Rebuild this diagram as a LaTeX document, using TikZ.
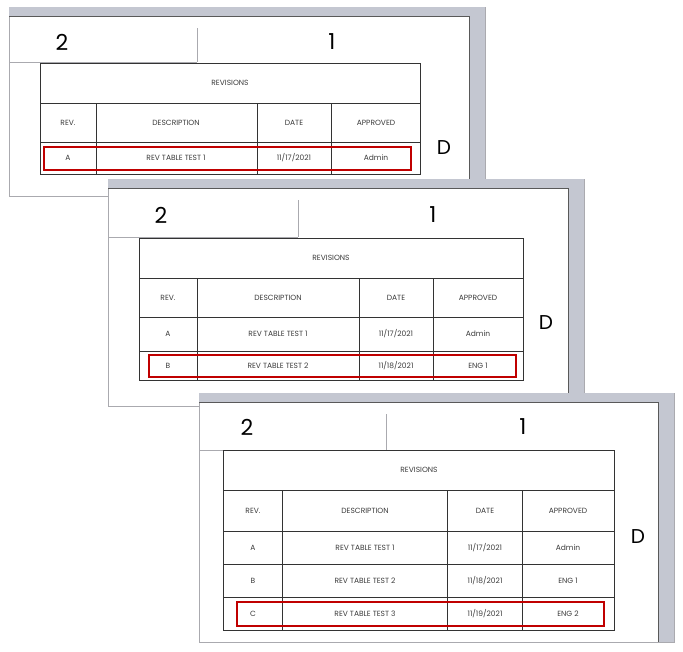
\documentclass[tikz,border=0pt]{standalone}
\usepackage{fontspec}
\setmainfont{Poppins}
\definecolor{band}{RGB}{196,199,209}
\definecolor{edge}{RGB}{170,170,175}
\definecolor{redb}{RGB}{192,0,0}
\definecolor{txt}{RGB}{60,60,60}
\newcommand{\drawpanel}[9]{%
  % L T R B divx lineY num2x num1x numy
  \fill[white,draw=edge,line width=0.8pt] (#1,#2) rectangle (#3,#4);
  \fill[band] (#1,#2) rectangle (#3,#2+9);
  \fill[band] (#3-16,#2) rectangle (#3,#4);
  \draw[gray!70!black,line width=0.6pt] (#1,#2+9) -- (#3-16,#2+9) -- (#3-16,#4);
  \draw[edge,line width=0.6pt] (#1,#6) -- (#5,#6);
  \draw[edge,line width=0.6pt] (#5,#2+21) -- (#5,#6);
  \node[font=\fontsize{22}{22}\selectfont] at (#7,#9) {2};
  \node[font=\fontsize{22}{22}\selectfont] at (#8,#9) {1};
}
\tikzset{cell/.style={font=\fontsize{7.5}{8}\selectfont,text=txt},
  grid/.style={draw=black!80,line width=0.7pt},
  redbox/.style={draw=redb,line width=2pt},
  bigD/.style={font=\fontsize{20}{20}\selectfont}}
\begin{document}
\begin{tikzpicture}[x=1pt,y=-1pt]
\useasboundingbox (0,0) rectangle (683,651);
% ---------- panel 1
\drawpanel{9}{7}{485}{196}{197}{62}{62}{332}{42}
\fill[white] (40,63) rectangle (420,174);
\draw[grid] (40,63) rectangle (420,174);
\draw[grid] (40,103) -- (420,103) (40,142) -- (420,142);
\foreach \c in {96,257,331} \draw[grid] (\c,103) -- (\c,174);
\node[cell] (t1) at (230,83) {REVISIONS};
\node[cell] (h11) at (68,123) {REV.};
\node[cell] (h12) at (176,123) {DESCRIPTION};
\node[cell] (h13) at (294,123) {DATE};
\node[cell] (h14) at (376,123) {APPROVED};
\node[cell] (a11) at (68,158) {A};
\node[cell] (a12) at (176,158) {REV TABLE TEST 1};
\node[cell] (a13) at (294,158) {11/17/2021};
\node[cell] (a14) at (376,158) {Admin};
\draw[redbox] (44,147) rectangle (411,170);
\node[bigD] (d1) at (444,148) {D};
% ---------- panel 2
\drawpanel{108}{179}{584}{406}{298}{237}{161}{433}{215}
\fill[white] (139,238) rectangle (523,380);
\draw[grid] (139,238) rectangle (523,380);
\draw[grid] (139,278) -- (523,278) (139,317) -- (523,317) (139,351) -- (523,351);
\foreach \c in {197,359,433} \draw[grid] (\c,278) -- (\c,380);
\node[cell] (t2) at (331,258) {REVISIONS};
\node[cell] at (168,298) {REV.};
\node[cell] at (278,298) {DESCRIPTION};
\node[cell] at (396,298) {DATE};
\node[cell] at (478,298) {APPROVED};
\node[cell] at (168,334) {A};
\node[cell] at (278,334) {REV TABLE TEST 1};
\node[cell] at (396,334) {11/17/2021};
\node[cell] at (478,334) {Admin};
\node[cell] at (168,366) {B};
\node[cell] at (278,366) {REV TABLE TEST 2};
\node[cell] at (396,366) {11/18/2021};
\node[cell] at (478,366) {ENG 1};
\draw[redbox] (149,355) rectangle (516,377);
\node[bigD] (d2) at (546,323) {D};
% ---------- panel 3
\drawpanel{199}{393}{674}{642}{386}{450}{247}{523}{427}
\fill[white] (223,450) rectangle (614,630);
\draw[grid] (223,450) rectangle (614,630);
\draw[grid] (223,490) -- (614,490) (223,531) -- (614,531) (223,564) -- (614,564) (223,597) -- (614,597);
\foreach \c in {282,447,522} \draw[grid] (\c,490) -- (\c,630);
\node[cell] (t3) at (419,470) {REVISIONS};
\node[cell] at (253,511) {REV.};
\node[cell] at (365,511) {DESCRIPTION};
\node[cell] at (485,511) {DATE};
\node[cell] at (568,511) {APPROVED};
\node[cell] at (253,548) {A};
\node[cell] at (365,548) {REV TABLE TEST 1};
\node[cell] at (485,548) {11/17/2021};
\node[cell] at (568,548) {Admin};
\node[cell] at (253,581) {B};
\node[cell] at (365,581) {REV TABLE TEST 2};
\node[cell] at (485,581) {11/18/2021};
\node[cell] at (568,581) {ENG 1};
\node[cell] at (253,614) {C};
\node[cell] at (365,614) {REV TABLE TEST 3};
\node[cell] at (485,614) {11/19/2021};
\node[cell] at (568,614) {ENG 2};
\draw[redbox] (237,602) rectangle (604,626);
\node[bigD] (d3) at (638,537) {D};
\end{tikzpicture}
\end{document}
